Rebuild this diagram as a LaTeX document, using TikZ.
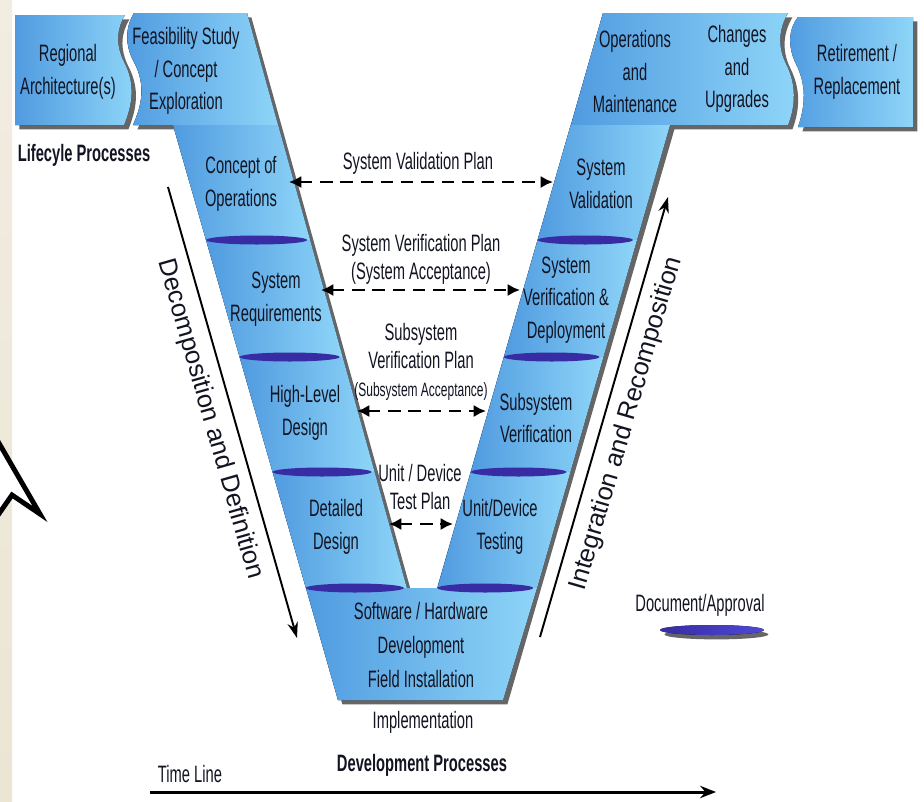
\documentclass[tikz,border=0pt]{standalone}
\usepackage{fontspec}
\setmainfont{Liberation Sans}[FakeStretch=0.62]
\newfontfamily\plainsans{Liberation Sans}
\usetikzlibrary{arrows.meta, shadows}

\definecolor{vdark}{RGB}{80,155,224}
\definecolor{vlight}{RGB}{142,213,248}
\definecolor{docblue}{RGB}{56,44,164}
\definecolor{inktext}{RGB}{18,20,34}
\definecolor{stripbeige}{RGB}{236,229,212}

\begin{document}
\begin{tikzpicture}[
  x=0.02cm, y=-0.02cm,
  phase/.style    = {left color=vdark, right color=vlight},
  shadowed/.style = {drop shadow={shadow xshift=2.5pt, shadow yshift=-2.5pt, opacity=.6, fill=black}},
  doc/.style      = {fill=docblue},
  lbl/.style      = {align=center, font=\fontsize{13.5}{18.5}\selectfont, text=inktext, inner sep=0pt},
  plan/.style     = {align=center, font=\fontsize{13.5}{16}\selectfont, text=inktext, inner sep=0pt},
  head/.style     = {font=\bfseries\fontsize{13.5}{16}\selectfont, text=inktext, inner sep=0pt},
  along/.style    = {font=\plainsans\fontsize{14.5}{16}\selectfont, text=inktext, inner sep=0pt},
  dasharrow/.style = {line width=1.6pt, dash pattern=on 7pt off 4.5pt,
                      {Latex[length=7pt,width=7pt]}-{Latex[length=7pt,width=7pt]}},
  flow/.style     = {line width=1.1pt, -{Stealth[length=9pt,width=6pt]}}
]

  \useasboundingbox (0,0) rectangle (924,802);
  \fill[white] (0,0) rectangle (924,802);

  % screen edge and pointer
  \fill[top color=stripbeige!70!white, bottom color=stripbeige] (0,0) rectangle (12,802);
  \fill[white] (-4,438) -- (40,514) -- (12,495) -- (-4,518) -- cycle;
  \draw[line width=2.8pt, miter limit=12] (-4,438) -- (40,514) -- (12,495) -- (-4,518);

  % lifecycle boxes at both ends
  \fill[phase, shadowed] (15,15) -- (125,15)
    .. controls (117,28) and (115,44) .. (124,62)
    .. controls (136,85) and (132,105) .. (124,125) -- (15,125) -- cycle;
  \fill[phase, shadowed] (798,17) -- (913,17) -- (913,127) -- (798,127)
    .. controls (806,104) and (806,84) .. (796,64)
    .. controls (787,46) and (789,28) .. (798,17) -- cycle;

  % the V as one outline (for its shadow)
  \fill[vdark, shadowed] (134,13) -- (247,13) -- (407,588) -- (437,588) -- (603,13) -- (788,13)
    .. controls (779,28) and (777,46) .. (786,64)
    .. controls (796,84) and (796,104) .. (788,125)
    -- (670,125) -- (503,700) -- (338,700) -- (173,125) -- (133,125)
    .. controls (142,105) and (146,85) .. (134,62)
    .. controls (124,44) and (126,26) .. (134,13) -- cycle;

  % top parts of the V
  \fill[phase] (134,13) -- (247,13) -- (278,125) -- (133,125)
    .. controls (142,105) and (146,85) .. (134,62)
    .. controls (124,44) and (126,26) .. (134,13) -- cycle;
  \fill[phase] (603,13) -- (788,13)
    .. controls (779,28) and (777,46) .. (786,64)
    .. controls (796,84) and (796,104) .. (788,125) -- (571,125) -- cycle;

  % arm phases
  \foreach \ya/\yb in {125/240, 240/357, 357/472, 472/588} {
    \fill[phase] ({173+0.287*(\ya-125)},\ya) -- ({247+0.278*(\ya-13)},\ya)
      -- ({247+0.278*(\yb-13)},\yb) -- ({173+0.287*(\yb-125)},\yb) -- cycle;
    \fill[phase] ({603-0.288*(\ya-13)},\ya) -- ({670-0.287*(\ya-125)},\ya)
      -- ({670-0.287*(\yb-125)},\yb) -- ({603-0.288*(\yb-13)},\yb) -- cycle;
  }
  \fill[phase] (306,588) -- (537,588) -- (503,700) -- (338,700) -- cycle;

  % document / approval marks
  \foreach \yy in {240, 357, 472, 588} {
    \pgfmathsetmacro\xa{173+0.287*(\yy-125)}
    \pgfmathsetmacro\xb{247+0.278*(\yy-13)-3}
    \fill[doc] ({(\xa+\xb)/2},\yy) ellipse [x radius={(\xb-\xa)/2}, y radius=4.5];
    \pgfmathsetmacro\xc{603-0.288*(\yy-13)}
    \pgfmathsetmacro\xd{670-0.287*(\yy-125)-4}
    \fill[doc] ({(\xc+\xd)/2},\yy) ellipse [x radius={(\xd-\xc)/2}, y radius=4.5];
  }

  % box texts
  \node[lbl] (regarch)  at (68,72)   {Regional\\Architecture(s)};
  \node[lbl] (feas)     at (186,71)  {Feasibility Study\\/ Concept\\Exploration};
  \node[head] (lifecyc) at (84,155)  {Lifecyle Processes};
  \node[lbl] (conops)   at (241,184) {Concept of\\Operations};
  \node[lbl] (sysreq)   at (276,299) {System\\Requirements};
  \node[lbl] (hld)      at (305,413) {High-Level\\Design};
  \node[lbl] (dd)       at (336,527) {Detailed\\Design};
  \node[lbl, font=\fontsize{13.5}{19.5}\selectfont] (swhw) at (421,645)
    {Software / Hardware\\Development\\Field Installation};
  \node[lbl] (impl)     at (423,722) {Implementation};
  \node[head] (devproc) at (422,765) {Development Processes};
  \node[lbl] (timeln)   at (190,774) {Time Line};
  \node[lbl] (sysval)   at (601,184) {System\\Validation};
  \node[lbl] (sysver)   at (566,300) {System\\Verification \&\\Deployment};
  \node[lbl] (subver)   at (536,418) {Subsystem\\Verification};
  \node[lbl] (unitt)    at (500,527) {Unit/Device\\Testing};
  \node[lbl] (opsmaint) at (635,72)  {Operations\\and\\Maintenance};
  \node[lbl] (changes)  at (737,69)  {Changes\\and\\Upgrades};
  \node[lbl] (retire)   at (857,72)  {Retirement /\\Replacement};

  % plan texts
  \node[plan] (valplan)  at (418,163) {System Validation Plan};
  \node[plan] (verplan)  at (421,259) {System Verification Plan\\(System Acceptance)};
  \node[plan] (subplan)  at (421,346) {Subsystem\\Verification Plan};
  \node[plan, font=\fontsize{11}{13}\selectfont] (subacc) at (421,391) {(Subsystem Acceptance)};
  \node[plan] (unitplan) at (420,487) {Unit / Device\\Test Plan};

  % plan arrow ends
  \coordinate (valL) at (289,182);  \coordinate (valR) at (553,182);
  \coordinate (verL) at (321,290);  \coordinate (verR) at (520,290);
  \coordinate (subL) at (357,411);  \coordinate (subR) at (486,411);
  \coordinate (unitL) at (389,524); \coordinate (unitR) at (453,524);
  \draw[dasharrow] (valL) -- (valR);
  \draw[dasharrow] (verL) -- (verR);
  \draw[dasharrow] (subL) -- (subR);
  \draw[dasharrow] (unitL) -- (unitR);

  % decomposition and integration
  \coordinate (decTop) at (168,187); \coordinate (decBot) at (297,638);
  \coordinate (intBot) at (540,637); \coordinate (intTop) at (668,197);
  \draw[flow] (decTop) -- node[midway, sloped, below=6pt, along] {Decomposition and Definition} (decBot);
  \draw[flow] (intBot) -- node[midway, sloped, below=6pt, along] {Integration and Recomposition} (intTop);

  % legend
  \node[lbl] (docapp) at (700,605) {Document/Approval};
  \fill[left color=docblue, right color=docblue!60!blue!80!white, shadowed]
    (712,630) ellipse [x radius=52, y radius=5];

  % time line
  \coordinate (tlStart) at (150,792); \coordinate (tlEnd) at (716,792);
  \draw[line width=1.7pt, -{Stealth[length=9pt,width=7pt]}] (tlStart) -- (tlEnd);

\end{tikzpicture}
\end{document}
